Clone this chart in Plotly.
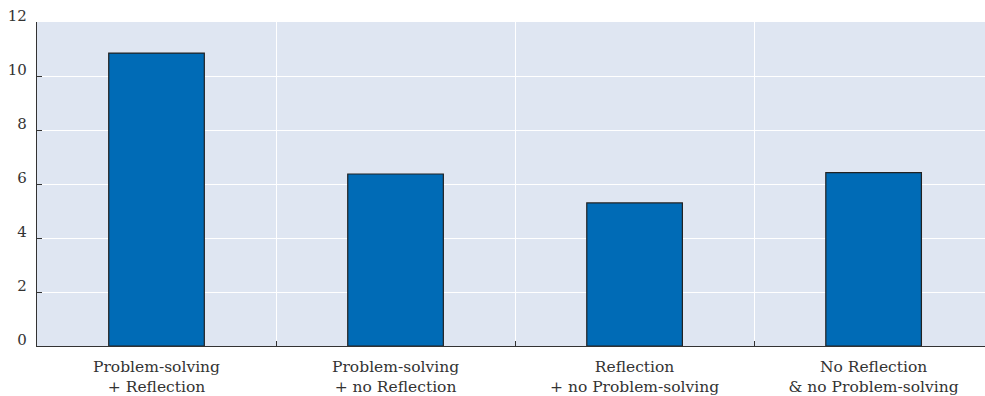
import plotly.graph_objects as go

categories = [
    "Problem-solving<br>+ Reflection",
    "Problem-solving<br>+ no Reflection",
    "Reflection<br>+ no Problem-solving",
    "No Reflection<br>& no Problem-solving",
]
values = [10.85, 6.37, 5.30, 6.42]
y_ticks = [0, 2, 4, 6, 8, 10, 12]

fig = go.Figure()
fig.add_trace(go.Bar(
    x=categories,
    y=values,
    width=0.4,
    marker=dict(color="#006BB6", line=dict(color="#222222", width=1.2)),
    hoverinfo="x+y",
))

fig.update_layout(
    width=985, height=396,
    margin=dict(l=37, r=0, t=22, b=50),
    paper_bgcolor="white",
    plot_bgcolor="#DFE6F2",
    font=dict(family="DejaVu Serif", size=15, color="#333333"),
    showlegend=False,
)
fig.update_xaxes(
    type="category",
    range=[-0.5, 3.466],  # last category is cut off at the right edge
    tickson="boundaries",
    showgrid=True, gridcolor="white", gridwidth=1,
    ticks="inside", ticklen=5, tickcolor="#333333",
    showline=True, linecolor="#333333", linewidth=1.2,
    ticklabelstandoff=6,
    automargin=False,
    tickfont=dict(size=15.5),
)
fig.update_yaxes(
    range=[0, 12],
    tickvals=y_ticks,
    showgrid=True, gridcolor="white", gridwidth=1,
    ticks="inside", ticklen=5, tickcolor="#333333",
    showline=True, linecolor="#333333", linewidth=1.2,
    zeroline=False,
    ticklabelshift=-6,
    ticklabelstandoff=6,
    ticklabeloverflow="allow",
    automargin=False,
    tickfont=dict(size=15),
)

# drop the default page margin so the figure fills the window
fig.write_html(
    "out.html",
    config={"displayModeBar": False},
    post_script="document.body.style.margin='0';document.body.style.overflow='hidden';",
)
